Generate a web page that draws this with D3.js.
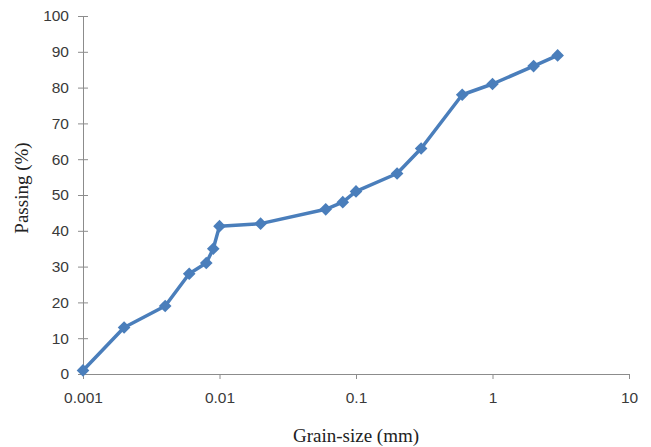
<!DOCTYPE html>
<html>
<head>
<meta charset="utf-8">
<script src="https://cdn.jsdelivr.net/npm/d3@7"></script>
<style>
  body { margin: 0; background: #fff; }
  .tick text { font-family: "Liberation Sans", Arial, sans-serif; font-size: 15.5px; fill: #3a3a3a; }
  .axis-title { font-family: "Liberation Serif", "Times New Roman", serif; font-size: 19px; fill: #222; }
</style>
</head>
<body>
<div id="chart"></div>
<script>
// grain size (mm) and percent passing
var grainSize = [0.001, 0.002, 0.004, 0.006, 0.008, 0.009, 0.01, 0.02, 0.06, 0.08, 0.1, 0.2, 0.3, 0.6, 1, 2, 3];
var passing   = [1, 13, 19, 28, 31, 35, 41.3, 42, 46, 48, 51, 56, 63, 78, 81, 86, 89];
var xTicks = [0.001, 0.01, 0.1, 1, 10];
var yTicks = [0, 10, 20, 30, 40, 50, 60, 70, 80, 90, 100];

var W = 651, H = 447;
var margin = { top: 16, right: 22, bottom: 73, left: 83 },
    width  = W - margin.left - margin.right,
    height = H - margin.top - margin.bottom;

var svg = d3.select("#chart").append("svg")
    .attr("width", W)
    .attr("height", H);

var g = svg.append("g")
    .attr("transform", "translate(" + margin.left + "," + margin.top + ")");

var x = d3.scaleLog().domain([0.001, 10]).range([0, width]);
var y = d3.scaleLinear().domain([0, 100]).range([height, 0]);

// y axis (cross ticks)
var yAxis = g.append("g")
    .call(d3.axisLeft(y).tickValues(yTicks).tickSize(5).tickPadding(9).tickFormat(d3.format("d")));
yAxis.select(".domain").attr("stroke", "#8c8c8c");
yAxis.selectAll(".tick line").attr("stroke", "#8c8c8c").attr("x2", 5).attr("x1", -5);

// x axis
var xAxis = g.append("g")
    .attr("transform", "translate(0," + height + ")")
    .call(d3.axisBottom(x).tickValues(xTicks).tickSize(5).tickSizeOuter(0).tickPadding(13)
      .tickFormat(function(d) { return String(d); }));
xAxis.select(".domain").attr("stroke", "#8c8c8c");
xAxis.selectAll(".tick line").attr("stroke", "#8c8c8c");

var data = grainSize.map(function(d, i) { return { x: d, y: passing[i] }; });

var line = d3.line()
    .x(function(d) { return x(d.x); })
    .y(function(d) { return y(d.y); });

g.append("path")
    .datum(data)
    .attr("fill", "none")
    .attr("stroke", "#4a7ebb")
    .attr("stroke-width", 3.5)
    .attr("stroke-linejoin", "round")
    .attr("d", line);

// square diamonds like Excel's marker
var diamond = d3.symbol().type(d3.symbolSquare).size(80);
g.selectAll(".pt")
    .data(data)
    .enter()
    .append("path")
    .attr("class", "pt")
    .attr("d", diamond)
    .attr("transform", function(d) { return "translate(" + x(d.x) + "," + y(d.y) + ") rotate(45)"; })
    .attr("fill", "#4a7ebb");

// axis titles
svg.append("text")
    .attr("class", "axis-title")
    .attr("x", margin.left + width / 2)
    .attr("y", 442)
    .attr("text-anchor", "middle")
    .text("Grain-size (mm)");

svg.append("text")
    .attr("class", "axis-title")
    .attr("transform", "translate(28,188) rotate(-90)")
    .attr("text-anchor", "middle")
    .text("Passing (%)");
</script>
</body>
</html>
